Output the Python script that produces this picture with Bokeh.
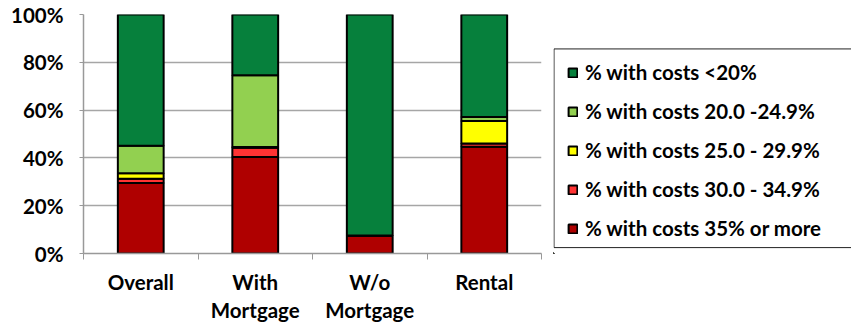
from bokeh.plotting import figure
from bokeh.models import ColumnDataSource, Legend, LegendItem, FixedTicker, Range1d
from bokeh.layouts import row
from bokeh.embed import file_html
from bokeh.resources import INLINE

categories = ["Overall", "With\nMortgage", "W/o\nMortgage", "Rental"]
series_names = ["% with costs 35% or more", "% with costs 30.0 - 34.9%",
                "% with costs 25.0 - 29.9%", "% with costs 20.0 -24.9%",
                "% with costs <20%"]
costs_35_plus = [29.5, 40.4, 7.5, 44.7]
costs_30_349 = [1.8, 3.8, 0.0, 1.3]
costs_25_299 = [2.3, 0.4, 0.0, 9.4]
costs_20_249 = [11.5, 30.0, 0.0, 1.7]
costs_lt_20 = [54.9, 25.4, 92.5, 42.9]
colors = ["#AF0000", "#FF3333", "#FFFF00", "#92D050", "#06803C"]

xs = [i + 0.5 for i in range(len(categories))]
keys = ["s35", "s30", "s25", "s20", "s0"]
src = ColumnDataSource(dict(x=xs, s35=costs_35_plus, s30=costs_30_349,
                            s25=costs_25_299, s20=costs_20_249, s0=costs_lt_20))

FONT = "Lato"
FS = "20.5px"
H = 325
TOP, BOTTOM = 14, 68

p = figure(width=553, height=H, output_backend="svg", toolbar_location=None,
           x_range=Range1d(0, len(categories)), y_range=Range1d(0, 100),
           min_border_left=83, min_border_right=12, min_border_top=TOP,
           min_border_bottom=BOTTOM)
p.outline_line_color = None

renderers = p.vbar_stack(keys, x="x", width=0.4, source=src, fill_color=colors,
                         line_color="black", line_width=2)

# axes
p.xaxis.ticker = FixedTicker(ticks=xs, minor_ticks=list(range(len(categories) + 1)))
p.xaxis.major_label_overrides = {x: c for x, c in zip(xs, categories)}
p.xaxis.major_tick_out = 0
p.xaxis.major_tick_in = 0
p.xaxis.minor_tick_out = 6
p.xaxis.minor_tick_in = 0
p.xaxis.minor_tick_line_color = "#999999"
p.xaxis.axis_line_color = "#999999"
p.xaxis.axis_line_width = 1.5
p.xaxis.major_label_text_font = FONT
p.xaxis.major_label_text_font_style = "bold"
p.xaxis.major_label_text_font_size = FS
p.xaxis.major_label_text_color = "black"
p.xaxis.major_label_standoff = 10

p.yaxis.ticker = FixedTicker(ticks=[0, 20, 40, 60, 80, 100])
p.yaxis.major_label_overrides = {v: f"{v}%" for v in [0, 20, 40, 60, 80, 100]}
p.yaxis.major_tick_out = 4
p.yaxis.major_tick_in = 0
p.yaxis.minor_tick_line_color = None
p.yaxis.major_tick_line_color = "#999999"
p.yaxis.axis_line_color = "#999999"
p.yaxis.axis_line_width = 1.5
p.yaxis.major_label_text_font = FONT
p.yaxis.major_label_text_font_style = "bold"
p.yaxis.major_label_text_font_size = FS
p.yaxis.major_label_text_color = "black"
p.yaxis.major_label_standoff = 16

p.xgrid.grid_line_color = None
p.ygrid.ticker = FixedTicker(ticks=[20, 40, 60, 80, 100])
p.ygrid.grid_line_color = "#A6A6A6"
p.ygrid.grid_line_width = 1.5

# legend figure; ranges in page pixels (y measured up from the canvas bottom)
LW = 298
q = figure(width=LW, height=H, output_backend="svg", toolbar_location=None,
           x_range=Range1d(0, LW), y_range=Range1d(BOTTOM, H - TOP),
           x_axis_location=None, y_axis_location=None,
           min_border_left=0, min_border_right=0, min_border_top=TOP,
           min_border_bottom=BOTTOM)
q.outline_line_color = None
q.xgrid.grid_line_color = None
q.ygrid.grid_line_color = None
q.quad(left=[0.5], right=[LW + 20], top=[H - 49], bottom=[H - 251],
       fill_color=None, line_color="#222222", line_width=1)

# dummy renderers (outside the visible range) that only feed the legend glyphs
dummy = ColumnDataSource(dict(x=[-1000], top=[0]))
legend_rs = [q.vbar(x="x", top="top", width=1, source=dummy, fill_color=c,
                    line_color="black", line_width=2) for c in colors]
items = [LegendItem(label=n, renderers=[r]) for n, r in zip(series_names, legend_rs)]
legend = Legend(items=list(reversed(items)), location=(14, 13))
legend.border_line_color = None
legend.background_fill_alpha = 0
legend.label_text_font = FONT
legend.label_text_font_style = "bold"
legend.label_text_font_size = FS
legend.label_text_color = "black"
legend.glyph_width = 11
legend.glyph_height = 11
legend.label_height = 20
legend.spacing = 15
legend.padding = 12
legend.margin = 0
legend.label_standoff = 7
q.add_layout(legend, "center")

layout = row(p, q, spacing=0)
open("out.html", "w").write(file_html(layout, INLINE))
